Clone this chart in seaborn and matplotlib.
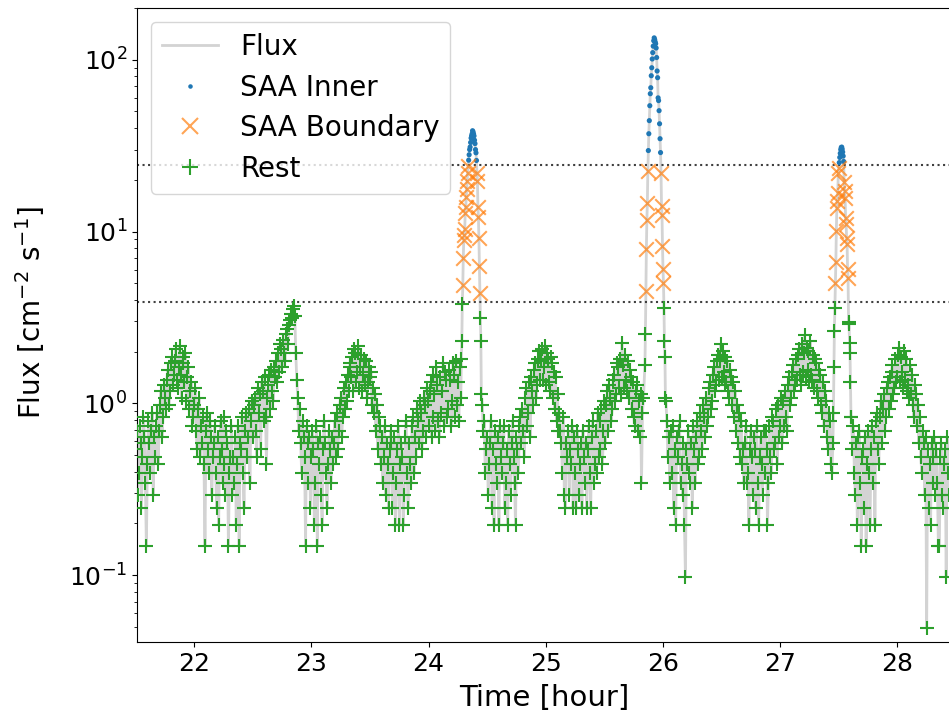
import numpy as np
import pandas as pd
import matplotlib
matplotlib.use("Agg")
import matplotlib.pyplot as plt
from matplotlib.lines import Line2D
import seaborn as sns

# Detector conversion and zone limits
COUNT_TO_FLUX = 0.049      # cm^-2 s^-1 per count
INNER_LIMIT = 24.5         # SAA inner region above this flux
BOUNDARY_LIMIT = 3.9       # SAA boundary between this and the inner limit

# Counts outside the SAA (30 s cadence)
rest_a = [
    11, 14, 6, 8, 15, 12, 5, 10, 17, 13, 7, 3, 9, 16, 12, 8, 14, 18, 6, 13,
    10, 15, 18, 9, 14, 20, 24, 13, 17, 26, 22, 19, 28, 32, 20, 24, 35, 38, 26, 30,
    36, 42, 28, 25, 33, 44, 30, 22, 38, 35, 27, 40, 21, 29, 33, 19, 24, 27, 15, 17,
    20, 25, 14, 11, 19, 22, 10, 15, 12, 17, 9, 3, 14, 18, 11, 8, 16, 13, 6, 10,
    12, 15, 8, 5, 13, 4, 10, 16, 11, 7, 17, 9, 6, 14, 12, 3, 8, 10, 15, 6,
    10, 7, 13, 4, 9, 15, 3, 12, 11, 17, 8, 5, 14, 18, 10, 13, 19, 7, 16, 21,
    13, 20, 22, 14, 10, 25, 18, 23, 11, 27, 24, 16, 29, 17, 9, 22, 26, 30, 19, 32,
    24, 21, 33, 29, 36, 27, 40, 31, 45, 42, 33, 48, 40, 36, 52, 55, 45, 58, 62, 68,
    64, 72, 75, 66, 40, 28, 22, 14, 19, 12, 8, 16, 13, 10, 3, 15, 12, 7, 13, 5,
    10, 14, 11, 4, 7, 15, 3, 12, 9, 13, 6, 4, 11, 16, 12, 8, 5, 9, 14, 11,
    7, 13, 9, 12, 16, 10, 18, 11, 14, 20, 22, 13, 17, 25, 19, 27, 21, 30, 24, 33,
    35, 29, 38, 24, 42, 40, 27, 31, 44, 25, 33, 39, 24, 30, 37, 26, 36, 22, 27, 33,
    29, 31, 20, 25, 18, 23, 14, 20, 11, 17, 15, 9, 13, 7, 10, 15, 6, 12, 9, 5,
    11, 14, 12, 5, 8, 13, 4, 7, 11, 15, 4, 9, 12, 10, 4, 6, 13, 16, 8, 5,
    12, 9, 7, 15, 17, 8, 13, 10, 19, 16, 12, 21, 18, 11, 14, 22, 20, 13, 25, 21,
    15, 24, 27, 13, 17, 30, 23, 14, 33, 26, 16, 13, 29, 18, 24, 35, 15, 31, 28, 17,
    19, 32, 28, 15, 21, 35, 30, 17, 36, 20, 27, 16, 33, 22,
]
rest_b = [
    20, 14, 16, 8, 11, 13, 6, 9, 12, 16, 5, 11, 4, 14, 9, 7, 13, 4, 15, 10,
    8, 12, 15, 5, 7, 11, 4, 14, 9, 6, 12, 16, 10, 7, 4, 13, 11, 8, 15, 17,
    12, 19, 14, 10, 22, 25, 15, 18, 27, 13, 29, 24, 20, 32, 35, 22, 26, 37, 41, 28,
    36, 42, 28, 33, 44, 26, 40, 37, 27, 24, 38, 35, 22, 31, 19, 29, 16, 23, 14, 18,
    14, 12, 8, 17, 6, 5, 12, 10, 14, 6, 11, 9, 15, 5, 13, 8, 5, 14, 11, 6,
    9, 12, 5, 14, 10, 7, 12, 5, 11, 15, 8, 5, 13, 16, 7, 9, 14, 8, 18, 10,
    11, 16, 19, 9, 14, 21, 12, 20, 24, 14, 26, 22, 16, 19, 28, 30, 21, 23, 35, 33,
    25, 37, 23, 46, 34, 25, 39, 28, 24, 36, 22, 32, 29, 19, 27, 17, 15, 24, 26, 14,
    21, 13, 23, 7, 18, 22,
]
rest_c = [
    16, 10, 13, 7, 14, 8, 15, 5, 11, 4, 13, 10, 14, 16, 7, 9, 6, 12, 4, 2,
    11, 9, 14, 8, 7, 12, 5, 15, 11, 7, 13, 16, 9, 10, 18, 14, 11, 20, 17, 13,
    22, 15, 17, 25, 27, 19, 21, 30, 33, 24, 26, 36, 39, 28, 37, 45, 29, 41, 31, 26,
    38, 27, 36, 24, 22, 32, 29, 20, 27, 17, 24, 14, 20, 12, 18, 10, 16, 9, 11, 7,
    12, 15, 7, 8, 4, 11, 14, 10, 6, 13, 11, 5, 15, 7, 4, 10, 13, 9, 6, 14,
    8, 14, 11, 4, 7, 15, 10, 8, 17, 16, 11, 12, 19, 9, 20, 13, 15, 22, 12, 21,
    15, 24, 17, 14, 26, 29, 20, 22, 31, 34, 24, 26, 37, 28, 39, 42, 30, 26, 45, 31,
    40, 51, 29, 43, 32, 41, 27, 47, 30, 28, 39, 25, 37, 35, 24, 22, 32, 30, 20, 18,
    27, 15, 24, 21, 13, 11, 18, 16, 9, 8, 12,
]
rest_d = [
    17, 11, 15, 8, 6, 12, 4, 13, 14, 7, 3, 10, 11, 5, 13, 3, 9, 14, 8, 4,
    11, 15, 7, 13, 4, 16, 18, 11, 9, 17, 21, 12, 19, 23, 14, 17, 25, 27, 19, 29,
    21, 31, 34, 23, 25, 37, 27, 29, 39, 43, 27, 38, 31, 25, 41, 28, 37, 24, 26, 22,
    34, 23, 30, 20, 17, 26, 23, 15, 20, 12, 17, 10, 8, 14, 12, 6, 13, 1, 11, 5,
    9, 4, 12, 7, 10, 13, 6, 11, 7, 3, 3, 10, 12, 6, 5, 9, 11, 2, 13, 8,
    6, 11, 5, 9,
]

# Counts through the three SAA passes (15 s cadence)
saa_pass_1 = [
    37, 47, 77, 99, 144, 182, 194, 212, 263, 282, 322, 363, 404, 449, 494,
    531, 571, 612, 633, 673, 714, 735, 755, 788, 776, 755, 735, 694, 663, 612,
    586, 529, 449, 404, 282, 247, 186, 129, 90, 64, 47, 23,
]
saa_pass_2 = [
    34, 52, 92, 162, 237, 300, 461,
    604, 757, 902, 1102, 1294, 1402, 1647, 1833, 2061, 2245, 2449, 2633,
    2735, 2673, 2592,
    2531, 2388, 2102, 1755, 1604, 1224, 1180, 1031, 865, 708, 588,
    449, 288, 253, 169, 124, 102, 73, 47, 38, 22, 21,
]
saa_pass_3 = [
    18, 33, 54, 73, 103, 135, 206, 278, 308, 343, 449, 480,
    514, 551, 582, 612, 629, 633, 616, 592, 561, 522,
    394, 353, 320, 243, 227, 188, 173, 124, 110, 61, 59, 46, 40, 27, 17,
]

# (start hour, cadence in seconds, counts)
segments = [
    (21.5000, 30, rest_a),
    (24.2792, 15, saa_pass_1),
    (24.4583, 30, rest_b),
    (25.8458, 15, saa_pass_2),
    (26.0333, 30, rest_c),
    (27.4542, 15, saa_pass_3),
    (27.6083, 30, rest_d),
]

time_hr = np.concatenate([s + np.arange(len(c)) * cad / 3600.0 for s, cad, c in segments])
counts = np.concatenate([np.asarray(c, dtype=float) for _, _, c in segments])
flux = counts * COUNT_TO_FLUX
zone = np.where(flux >= INNER_LIMIT, "SAA Inner",
                np.where(flux >= BOUNDARY_LIMIT, "SAA Boundary", "Rest"))
df = pd.DataFrame({"time": time_hr, "flux": flux, "zone": zone})

fig = plt.figure(figsize=(9.49, 7.15), dpi=100)
ax = fig.add_axes([0.1444, 0.1021, 0.8580, 0.8867])

sns.lineplot(data=df, x="time", y="flux", color="lightgray", lw=2,
             estimator=None, ax=ax, zorder=1)

inner = df[df.zone == "SAA Inner"]
boundary = df[df.zone == "SAA Boundary"]
rest = df[df.zone == "Rest"]
sns.scatterplot(data=inner, x="time", y="flux", marker=".", s=55,
                color="tab:blue", edgecolor="none", ax=ax, zorder=3)
sns.scatterplot(data=boundary, x="time", y="flux", marker="x", s=110,
                color="tab:orange", alpha=0.7, linewidth=1.5, ax=ax, zorder=3)
sns.scatterplot(data=rest, x="time", y="flux", marker="+", s=110,
                color="tab:green", linewidth=1.5, ax=ax, zorder=3)

ax.axhline(INNER_LIMIT, ls=":", color="0.25", lw=1.5, zorder=2)
ax.axhline(BOUNDARY_LIMIT, ls=":", color="0.25", lw=1.5, zorder=2)

ax.set_yscale("log")
ax.set_xlim(21.512, 28.46)
ax.set_ylim(0.0408, 200)
ax.set_xticks([22, 23, 24, 25, 26, 27, 28])
ax.tick_params(axis="both", which="major", labelsize=18)
ax.set_xlabel("Time [hour]", fontsize=21, labelpad=6)
ax.set_ylabel("Flux [cm$^{-2}$ s$^{-1}$]", fontsize=20)
ax.yaxis.set_label_coords(-0.111, 0.52)

handles = [
    Line2D([], [], color="lightgray", lw=2, label="Flux"),
    Line2D([], [], color="tab:blue", marker=".", ls="", ms=4.5, label="SAA Inner"),
    Line2D([], [], color="tab:orange", marker="x", ls="", ms=12, mew=1.5,
           alpha=0.7, label="SAA Boundary"),
    Line2D([], [], color="tab:green", marker="+", ls="", ms=12, mew=1.5, label="Rest"),
]
ax.legend(handles=handles, loc="upper left", fontsize=20, labelspacing=0.45)

fig.savefig("out.png", dpi=100)
